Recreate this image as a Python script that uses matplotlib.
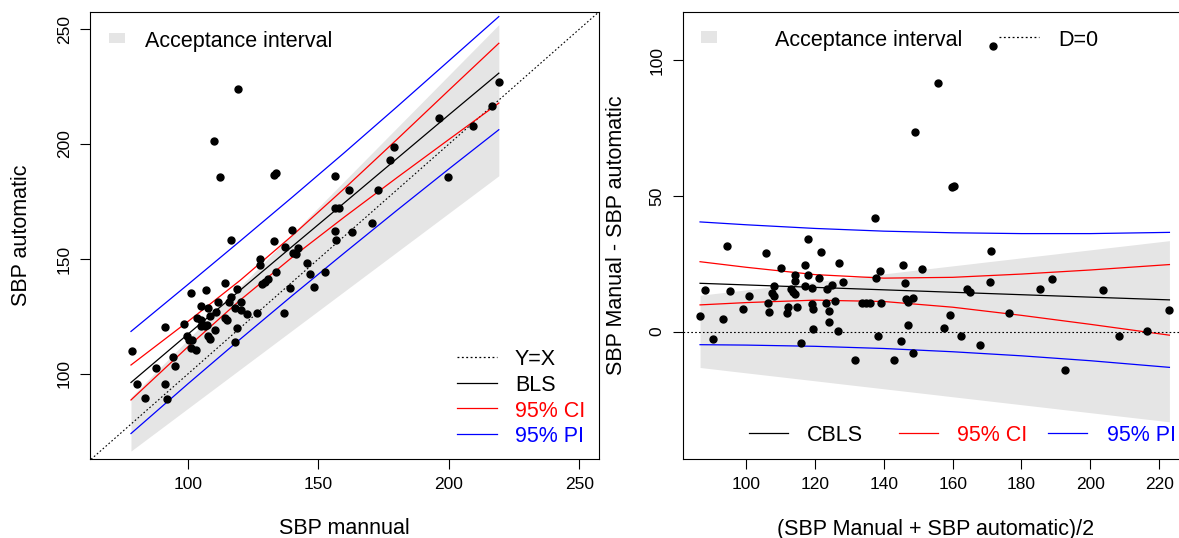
import matplotlib
matplotlib.use("Agg")
import matplotlib.pyplot as plt
from matplotlib.patches import Rectangle
import numpy as np

plt.rcParams['font.family'] = ['Liberation Sans', 'DejaVu Sans']

# ---- data: mean of the two methods and their difference (automatic - manual) ----
sbp_mean = [86.6, 88.0, 90.5, 93.4, 94.4, 95.2, 99.2, 100.7, 105.8, 106.3,
            106.6, 107.6, 108.2, 108.2, 110.0, 111.8, 112.2, 113.0, 113.7, 114.3,
            114.1, 114.3, 114.7, 116.0, 117.0, 117.2, 118.1, 118.1, 119.0, 119.2,
            119.3, 119.4, 121.3, 121.7, 123.5, 123.2, 124.2, 124.2, 125.0, 125.9,
            126.6, 126.9, 128.0, 131.7, 133.7, 134.7, 136.0, 137.4, 137.6, 138.3,
            138.9, 139.1, 143.1, 145.1, 145.5, 146.1, 146.4, 147.0, 146.9, 148.5,
            148.5, 149.1, 151.2, 155.7, 157.5, 159.3, 159.8, 160.5, 162.3, 164.2,
            165.0, 168.0, 171.0, 171.2, 171.6, 176.4, 185.4, 188.8, 192.7, 203.8,
            208.4, 216.5, 223.0]
sbp_diff = [5.9, 15.3, -2.7, 4.6, 31.5, 14.9, 8.5, 13.0, 29.0, 10.4,
            7.3, 14.1, 13.1, 16.8, 23.3, 6.8, 8.9, 15.7, 14.5, 14.0,
            20.9, 18.7, 8.9, -4.3, 16.8, 24.4, 34.2, 20.9, 16.1, 10.2,
            8.5, 0.9, 19.7, 29.3, 15.7, 10.6, 7.6, 3.5, 17.1, 11.2,
            0.1, 25.2, 18.3, -10.6, 10.5, 10.6, 10.6, 41.8, 19.9, -1.5,
            22.5, 10.7, -10.6, -3.4, 24.7, 17.9, 12.0, 2.4, 10.9, 12.3,
            -7.9, 73.4, 23.0, 91.6, 1.2, 6.1, 53.3, 53.6, -1.5, 15.6,
            14.5, -4.9, 18.3, 29.7, 105.0, 6.9, 15.6, 19.5, -14.1, 15.2,
            -1.5, 0.1, 8.0]
sbp_manual = np.array(sbp_mean) - np.array(sbp_diff) / 2
sbp_auto = np.array(sbp_mean) + np.array(sbp_diff) / 2

# left panel model curves
bls_x = [78.2, 100, 120, 140, 160, 180, 200, 219.1]
bls_y = [96.3, 117.3, 136.4, 155.5, 174.5, 193.6, 212.7, 230.8]
ci_hi = [103.9, 122.8, 140.7, 160.2, 180.7, 201.9, 223.4, 243.8]
ci_lo = [88.7, 111.8, 132.1, 150.8, 168.3, 185.3, 202.0, 217.8]
pi_hi = [118.5, 138.9, 157.8, 176.9, 196.3, 216.1, 236.2, 255.4]
pi_lo = [74.1, 95.7, 115.1, 134.1, 152.7, 171.1, 189.2, 206.2]
acc_x = [78.2, 219.1]
acc_lo = [66.5, 186.2]
acc_hi = [89.9, 251.9]

# right panel model curves
cb_x = [86.6, 100, 120, 140, 160, 180, 200, 223]
cbls = [17.8, 17.2, 16.3, 15.4, 14.5, 13.6, 12.7, 11.7]
cci_hi = [25.75, 23.7, 21.0, 19.7, 20.0, 21.2, 22.7, 24.7]
cci_lo = [9.85, 10.7, 11.6, 11.1, 9.0, 6.0, 2.7, -1.3]
cpi_hi = [40.4, 39.35, 38.0, 37.0, 36.4, 36.1, 36.1, 36.55]
cpi_lo = [-4.8, -4.95, -5.4, -6.2, -7.4, -8.9, -10.7, -13.15]
cacc_x = [86.6, 223]
cacc_lo = [-13.2, -33.2]
cacc_hi = [13.4, 33.5]

left_ticks = [100, 150, 200, 250]
right_xticks = [100, 120, 140, 160, 180, 200, 220]
right_yticks = [0, 50, 100]

GREY = '#E5E5E5'
FS = 15.5
TFS = 12.5
W, H = 1179, 538

fig = plt.figure(figsize=(W / 100, H / 100), dpi=100)


def style(ax):
    for s in ax.spines.values():
        s.set_linewidth(0.8)
    ax.tick_params(length=7, width=0.8, labelsize=TFS, pad=6)
    ax.tick_params(axis='y', labelrotation=90)
    for lab in ax.get_yticklabels():
        lab.set_va('center')


# ---------------- left panel ----------------
L0, R0, T0, B0 = 90, 598.8, 12, 459.3
ax1 = fig.add_axes([L0 / W, 1 - B0 / H, (R0 - L0) / W, (B0 - T0) / H])
ax1.set_xlim(62.5, 257.4)
ax1.set_ylim(62.9, 257.4)
ax1.fill_between(acc_x, acc_lo, acc_hi, color=GREY, lw=0, zorder=1)
ax1.axline((100, 100), slope=1, color='black', lw=0.8, ls=(0, (1.5, 2)), zorder=2)
ax1.plot(bls_x, bls_y, color='black', lw=0.9, zorder=3)
ax1.plot(bls_x, ci_hi, color='red', lw=0.9, zorder=3)
ax1.plot(bls_x, ci_lo, color='red', lw=0.9, zorder=3)
ax1.plot(bls_x, pi_hi, color='blue', lw=0.9, zorder=3)
ax1.plot(bls_x, pi_lo, color='blue', lw=0.9, zorder=3)
ax1.plot(sbp_manual, sbp_auto, 'o', color='black', ms=5, zorder=5)
ax1.set_xticks(left_ticks)
ax1.set_yticks(left_ticks)
style(ax1)
ax1.set_xlabel('SBP mannual', fontsize=FS)
ax1.set_ylabel('SBP automatic', fontsize=FS)
ax1.xaxis.set_label_coords(0.5, (B0 - 529) / (B0 - T0))
ax1.xaxis.label.set_va('center')
ax1.yaxis.set_label_coords((22 - L0) / (R0 - L0), 0.5)
ax1.yaxis.label.set_va('center')


def a1(px, py):
    return (px - L0) / (R0 - L0), (B0 - py) / (B0 - T0)


x0, y0 = a1(109, 43.3)
x1, y1 = a1(125, 32.7)
ax1.add_patch(Rectangle((x0, y0), x1 - x0, y1 - y0, transform=ax1.transAxes,
                        color=GREY, lw=0))
tx, ty = a1(145, 47.3)
ax1.text(tx, ty, 'Acceptance interval', transform=ax1.transAxes, fontsize=FS, va='baseline')

leg_rows = [('Y=X', 'black', (0, (1.5, 2)), 356.7),
            ('BLS', 'black', '-', 382.7),
            ('95% CI', 'red', '-', 408.3),
            ('95% PI', 'blue', '-', 434.0)]
for lab, col, ls, py in leg_rows:
    xa, ya = a1(456.7, py)
    xb, _ = a1(496.7, py)
    ax1.plot([xa, xb], [ya, ya], transform=ax1.transAxes, color=col, ls=ls, lw=0.9)
    tx, ty = a1(515, py + 8.3)
    ax1.text(tx, ty, lab, transform=ax1.transAxes, color=col, fontsize=FS, va='baseline')

# ---------------- right panel ----------------
L1, R1, T1, B1 = 682.5, 1188, 11.7, 459.3
ax2 = fig.add_axes([L1 / W, 1 - B1 / H, (R1 - L1) / W, (B1 - T1) / H])
ax2.set_xlim(81.5, 228.4)
ax2.set_ylim(-47.0, 117.8)
ax2.fill_between(cacc_x, cacc_lo, cacc_hi, color=GREY, lw=0, zorder=1)
ax2.axhline(0, color='black', lw=0.8, ls=(0, (1.5, 2)), zorder=4)
ax2.plot(cb_x, cbls, color='black', lw=0.9, zorder=3)
ax2.plot(cb_x, cci_hi, color='red', lw=0.9, zorder=3)
ax2.plot(cb_x, cci_lo, color='red', lw=0.9, zorder=3)
ax2.plot(cb_x, cpi_hi, color='blue', lw=0.9, zorder=3)
ax2.plot(cb_x, cpi_lo, color='blue', lw=0.9, zorder=3)
ax2.plot(sbp_mean, sbp_diff, 'o', color='black', ms=5, zorder=5)
ax2.set_xticks(right_xticks)
ax2.set_yticks(right_yticks)
style(ax2)
ax2.set_xlabel('(SBP Manual + SBP automatic)/2', fontsize=FS)
ax2.set_ylabel('SBP Manual - SBP automatic', fontsize=FS)
ax2.xaxis.set_label_coords(0.5, (B1 - 529) / (B1 - T1))
ax2.xaxis.label.set_va('center')
ax2.yaxis.set_label_coords((617 - L1) / (R1 - L1), 0.5)
ax2.yaxis.label.set_va('center')


def a2(px, py):
    return (px - L1) / (R1 - L1), (B1 - py) / (B1 - T1)


x0, y0 = a2(700.7, 42.7)
x1, y1 = a2(716.7, 30.7)
ax2.add_patch(Rectangle((x0, y0), x1 - x0, y1 - y0, transform=ax2.transAxes,
                        color=GREY, lw=0))
tx, ty = a2(775, 46)
ax2.text(tx, ty, 'Acceptance interval', transform=ax2.transAxes, fontsize=FS, va='baseline')
xa, ya = a2(999.3, 37.3)
xb, _ = a2(1039.3, 37.3)
ax2.plot([xa, xb], [ya, ya], transform=ax2.transAxes, color='black', ls=(0, (1.5, 2)), lw=0.9)
tx, ty = a2(1058.3, 46)
ax2.text(tx, ty, 'D=0', transform=ax2.transAxes, fontsize=FS, va='baseline')

bot_rows = [('CBLS', 'black', 749, 787.7, 806.7),
            ('95% CI', 'red', 899, 937.7, 956.7),
            ('95% PI', 'blue', 1048.3, 1087.3, 1106.7)]
for lab, col, lx0, lx1, tx0 in bot_rows:
    xa, ya = a2(lx0, 432.7)
    xb, _ = a2(lx1, 432.7)
    ax2.plot([xa, xb], [ya, ya], transform=ax2.transAxes, color=col, lw=0.9)
    tx, ty = a2(tx0, 440.7)
    ax2.text(tx, ty, lab, transform=ax2.transAxes, color=col, fontsize=FS, va='baseline')

fig.savefig('out.png', dpi=100)
